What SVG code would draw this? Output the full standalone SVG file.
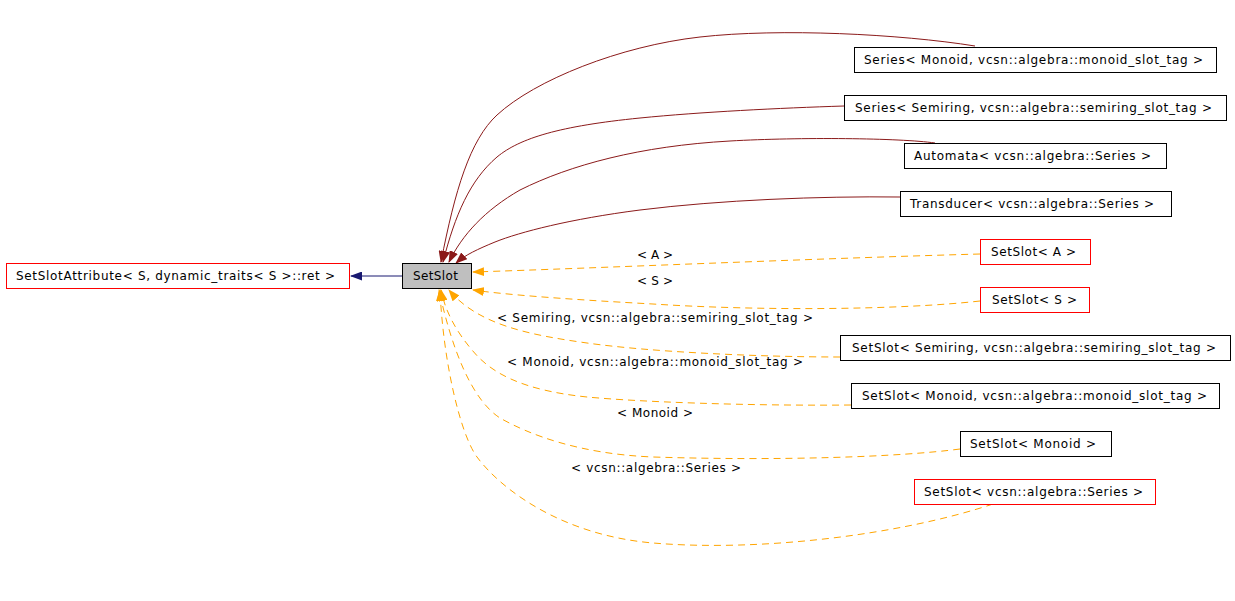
<svg xmlns="http://www.w3.org/2000/svg" width="1235" height="601" viewBox="0 0 1235 601">
<style>
text{font-family:"DejaVu Sans","Liberation Sans",sans-serif;font-size:12px;fill:#000}
.n{fill:#fff;stroke:#000;stroke-width:1}
.r{fill:#fff;stroke:#ff0000;stroke-width:1}
.g{fill:#bfbfbf;stroke:#000;stroke-width:1}
.e{fill:none;stroke-width:1}
.inh{stroke:#8b1a1a}
.tpl{stroke:#ffa500;stroke-dasharray:7,5}
.pub{stroke:#191970}
.lbl{text-anchor:middle}
</style>
<defs>
<marker id="aRed" markerUnits="userSpaceOnUse" markerWidth="12" markerHeight="9" viewBox="0 0 12 9" refX="11" refY="4.5" orient="auto"><path d="M0,0 L12,4.5 L0,9 z" fill="#8b1a1a" stroke="none"/></marker>
<marker id="aOr" markerUnits="userSpaceOnUse" markerWidth="12" markerHeight="9" viewBox="0 0 12 9" refX="11" refY="4.5" orient="auto"><path d="M0,0 L12,4.5 L0,9 z" fill="#ffa500" stroke="none"/></marker>
<marker id="aBlue" markerUnits="userSpaceOnUse" markerWidth="12" markerHeight="9" viewBox="0 0 12 9" refX="11" refY="4.5" orient="auto"><path d="M0,0 L12,4.5 L0,9 z" fill="#191970" stroke="none"/></marker>
</defs>
<rect width="1235" height="601" fill="#fff"/>
<g id="edges">
<path class="e pub" d="M402,276 L351,276" marker-end="url(#aBlue)"/>
<path class="e inh" d="M975,46 C900,34 780,28 700,37 C620,46 535,80 497,115 C470,140 455,190 441,262" marker-end="url(#aRed)"/>
<path class="e inh" d="M844,106 C780,108 700,112 640,118 C560,126 520,138 497,157 C470,180 455,215 443,262" marker-end="url(#aRed)"/>
<path class="e inh" d="M935,143 C900,138 800,137 730,141 C640,146 570,165 520,190 C485,210 462,235 449,262" marker-end="url(#aRed)"/>
<path class="e inh" d="M900,197 C820,196 720,200 640,210 C570,219 520,232 495,242 C478,249 465,255 456,263" marker-end="url(#aRed)"/>
<path class="e tpl" d="M980,254 C800,259 600,268 473,272" marker-end="url(#aOr)"/>
<path class="e tpl" d="M980,301 C900,310 760,311 653,304 C560,299 500,294 473,290" marker-end="url(#aOr)"/>
<path class="e tpl" d="M840,357 C760,357 650,352 587,343 C530,335 478,325 449,290" marker-end="url(#aOr)"/>
<path class="e tpl" d="M851,405 C750,406 640,402 587,397 C520,390 490,372 472,350 C455,330 445,310 441,290" marker-end="url(#aOr)"/>
<path class="e tpl" d="M960,449 C900,457 780,461 653,457 C580,454 530,435 500,418 C472,400 452,350 439,290" marker-end="url(#aOr)"/>
<path class="e tpl" d="M993,504 C900,535 760,552 653,543 C560,535 500,488 477,457 C460,434 443,360 440,290" marker-end="url(#aOr)"/>
<text class="lbl" x="655" y="259" textLength="36">&lt; A &gt;</text>
<text class="lbl" x="655" y="285" textLength="36">&lt; S &gt;</text>
<text class="lbl" x="655" y="322" textLength="316">&lt; Semiring, vcsn::algebra::semiring_slot_tag &gt;</text>
<text class="lbl" x="655" y="366" textLength="296">&lt; Monoid, vcsn::algebra::monoid_slot_tag &gt;</text>
<text class="lbl" x="655" y="417" textLength="76">&lt; Monoid &gt;</text>
<text class="lbl" x="656" y="472" textLength="170">&lt; vcsn::algebra::Series &gt;</text>
</g>
<g id="node_SetSlotAttribute"><rect class="r" x="6.5" y="263.5" width="343" height="25"/><text x="16" y="280" textLength="319">SetSlotAttribute&lt; S, dynamic_traits&lt; S &gt;::ret &gt;</text></g>
<g id="node_SetSlot"><rect class="g" x="402.5" y="263.5" width="69" height="25"/><text x="413" y="280" textLength="45">SetSlot</text></g>
<g id="node_SeriesMonoid"><rect class="n" x="854.5" y="47.5" width="362" height="25"/><text x="864" y="64" textLength="339">Series&lt; Monoid, vcsn::algebra::monoid_slot_tag &gt;</text></g>
<g id="node_SeriesSemiring"><rect class="n" x="844.5" y="95.5" width="382" height="25"/><text x="855" y="112" textLength="357">Series&lt; Semiring, vcsn::algebra::semiring_slot_tag &gt;</text></g>
<g id="node_Automata"><rect class="n" x="904.5" y="143.5" width="262" height="25"/><text x="914" y="160" textLength="237">Automata&lt; vcsn::algebra::Series &gt;</text></g>
<g id="node_Transducer"><rect class="n" x="900.5" y="191.5" width="271" height="25"/><text x="910" y="208" textLength="244">Transducer&lt; vcsn::algebra::Series &gt;</text></g>
<g id="node_SetSlotA"><rect class="r" x="980.5" y="239.5" width="110" height="25"/><text x="991" y="256" textLength="85">SetSlot&lt; A &gt;</text></g>
<g id="node_SetSlotS"><rect class="r" x="980.5" y="287.5" width="109" height="25"/><text x="992" y="304" textLength="85">SetSlot&lt; S &gt;</text></g>
<g id="node_SetSlotSemiring"><rect class="n" x="840.5" y="335.5" width="390" height="25"/><text x="852" y="352" textLength="364">SetSlot&lt; Semiring, vcsn::algebra::semiring_slot_tag &gt;</text></g>
<g id="node_SetSlotMonoidTag"><rect class="n" x="851.5" y="383.5" width="368" height="25"/><text x="862" y="400" textLength="345">SetSlot&lt; Monoid, vcsn::algebra::monoid_slot_tag &gt;</text></g>
<g id="node_SetSlotMonoid"><rect class="n" x="960.5" y="431.5" width="151" height="25"/><text x="970" y="448" textLength="126">SetSlot&lt; Monoid &gt;</text></g>
<g id="node_SetSlotSeries"><rect class="r" x="914.5" y="479.5" width="241" height="25"/><text x="924" y="496" textLength="219">SetSlot&lt; vcsn::algebra::Series &gt;</text></g>
</svg>
